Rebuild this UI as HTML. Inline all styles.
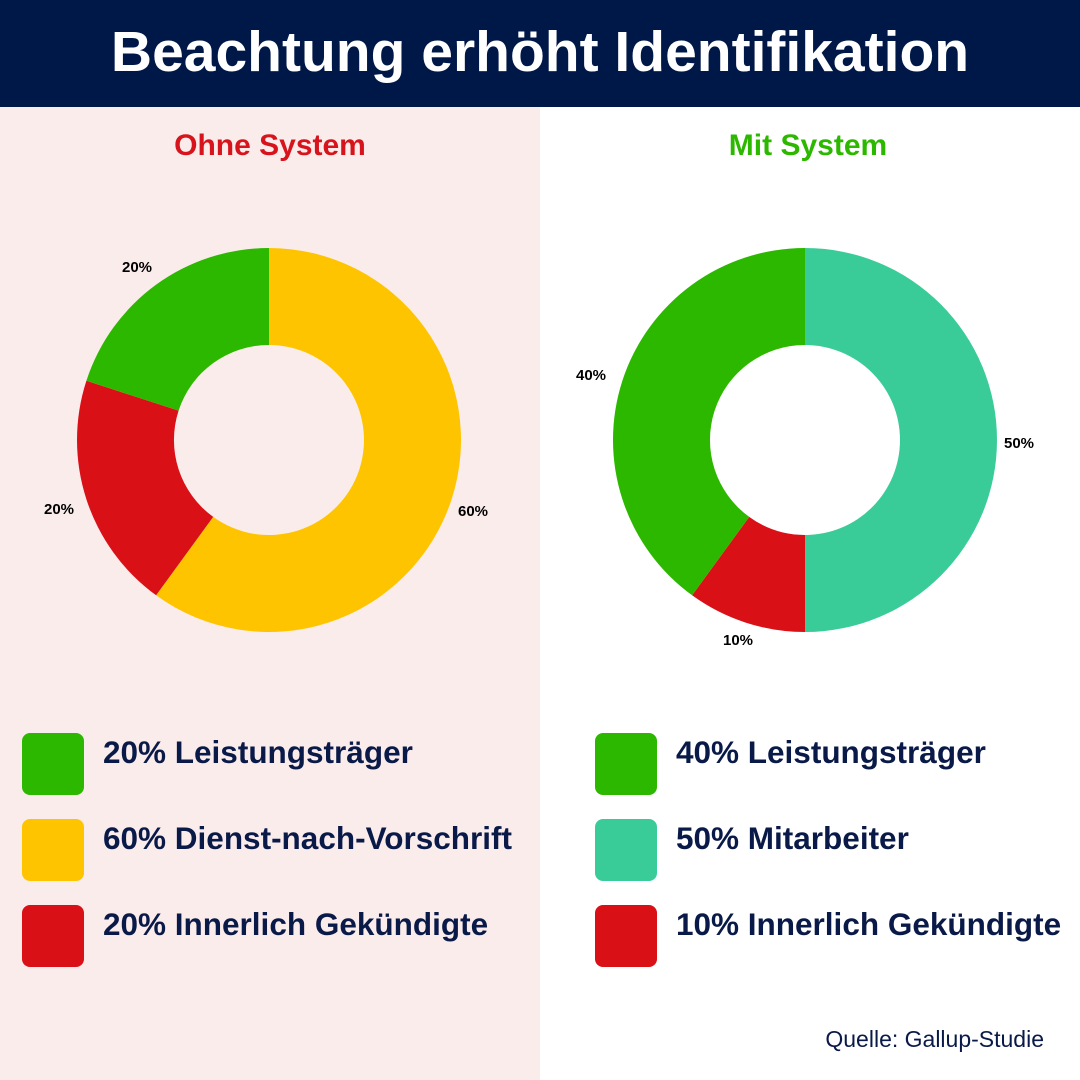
<!DOCTYPE html>
<html><head><meta charset="utf-8"><style>
body{margin:0;width:1080px;height:1080px;position:relative;overflow:hidden;background:#fff;font-family:"Liberation Sans",sans-serif;color:#0a1a48}
.hd{position:absolute;left:0;top:0;width:1080px;height:107px;background:#001848;color:#fff;font-weight:bold;font-size:57px;text-align:center;line-height:104px}
.lp{position:absolute;left:0;top:107px;width:540px;height:973px;background:#FBECEC}
.t{position:absolute;font-size:30px;font-weight:bold;width:540px;text-align:center;top:129px}
.sq{position:absolute;width:62px;height:62px;border-radius:8px}
.lg{position:absolute;font-size:31.5px;font-weight:bold;color:#0a1a48;line-height:36px;white-space:nowrap}
.pl{position:absolute;font-size:15px;font-weight:bold;color:#000}
</style></head><body>
<div class="hd">Beachtung erhöht Identifikation</div>
<div class="lp"></div>
<div class="t" style="left:0;color:#D7141B">Ohne System</div>
<div class="t" style="left:538px;color:#2DB800">Mit System</div>
<svg style="position:absolute;left:0;top:0" width="1080" height="1080">
<path d="M269,248 A192,192 0 1 1 156.1,595.3 L213.2,516.9 A95,95 0 1 0 269,345 Z" fill="#FFC400"/>
<path d="M156.1,595.3 A192,192 0 0 1 86.4,380.7 L178.6,410.6 A95,95 0 0 0 213.2,516.9 Z" fill="#DA1017"/>
<path d="M86.4,380.7 A192,192 0 0 1 269,248 L269,345 A95,95 0 0 0 178.6,410.6 Z" fill="#2DB800"/>
<path d="M805,248 A192,192 0 0 1 805,632 L805,535 A95,95 0 0 0 805,345 Z" fill="#3ACC98"/>
<path d="M805,632 A192,192 0 0 1 692.1,595.3 L749.2,516.9 A95,95 0 0 0 805,535 Z" fill="#DA1017"/>
<path d="M692.1,595.3 A192,192 0 0 1 805,248 L805,345 A95,95 0 0 0 749.2,516.9 Z" fill="#2DB800"/>
</svg>
<div class="pl" style="left:122px;top:259px">20%</div>
<div class="pl" style="left:44px;top:501px">20%</div>
<div class="pl" style="left:458px;top:503px">60%</div>
<div class="pl" style="left:576px;top:367px">40%</div>
<div class="pl" style="left:1004px;top:435px">50%</div>
<div class="pl" style="left:723px;top:632px">10%</div>
<div class="sq" style="left:22px;top:733px;background:#2DB800"></div>
<div class="sq" style="left:22px;top:819px;background:#FFC400"></div>
<div class="sq" style="left:22px;top:905px;background:#DA1017"></div>
<div class="sq" style="left:595px;top:733px;background:#2DB800"></div>
<div class="sq" style="left:595px;top:819px;background:#3ACC98"></div>
<div class="sq" style="left:595px;top:905px;background:#DA1017"></div>
<div class="lg" style="left:103px;top:734px">20% Leistungsträger</div>
<div class="lg" style="left:103px;top:820px">60% Dienst-nach-Vorschrift</div>
<div class="lg" style="left:103px;top:906px">20% Innerlich Gekündigte</div>
<div class="lg" style="left:676px;top:734px">40% Leistungsträger</div>
<div class="lg" style="left:676px;top:820px">50% Mitarbeiter</div>
<div class="lg" style="left:676px;top:906px">10% Innerlich Gekündigte</div>
<div style="position:absolute;right:36px;top:1026px;font-size:23px;color:#0a1a48">Quelle: Gallup-Studie</div>
</body></html>
